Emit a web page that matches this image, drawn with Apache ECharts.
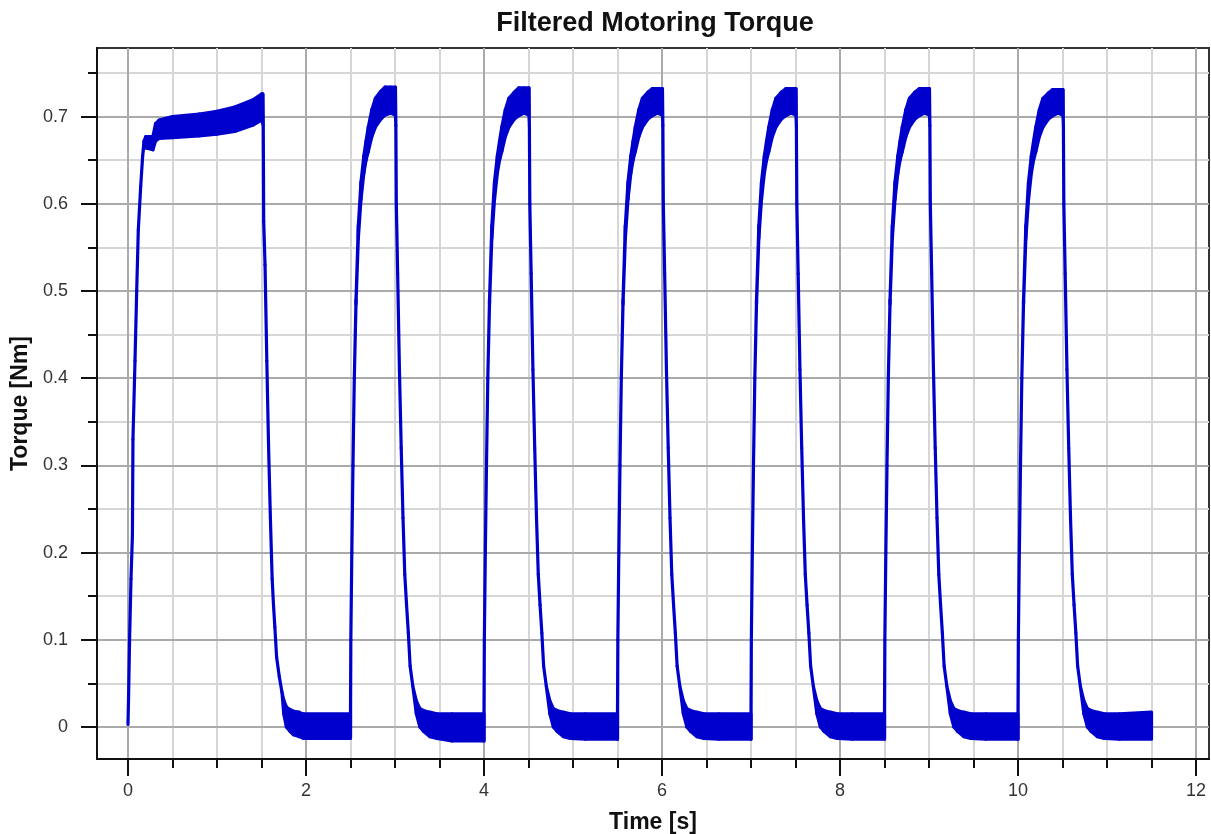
<!DOCTYPE html>
<html>
<head>
<meta charset="utf-8">
<script src="https://cdn.jsdelivr.net/npm/echarts@6/dist/echarts.min.js"></script>
<style>
html,body{margin:0;padding:0;background:#ffffff;}
#chart{width:1211px;height:834px;}
</style>
</head>
<body>
<div id="chart"></div>
<script>
// ---- data ----
const time = [
  // pulse 1
  0.000,0.006,0.018,0.034,0.050,0.056,0.079,0.098,0.116,0.143,0.165,0.180,0.200,0.280,0.310,0.350,0.500,0.800,1.000,1.200,1.400,1.500,1.515,1.520,1.525,1.540,1.560,1.580,1.600,1.620,1.635,1.650,1.670,1.700,1.730,1.750,1.780,1.820,1.860,1.920,1.970,2.500,
  // pulse 2
  2.504,2.515,2.528,2.543,2.562,2.588,2.618,2.650,2.675,2.700,2.740,2.780,2.840,2.890,2.950,3.005,3.010,3.015,3.030,3.050,3.070,3.090,3.110,3.130,3.150,3.170,3.200,3.240,3.280,3.320,3.390,3.470,3.640,4.000,
  // pulse 3
  4.004,4.015,4.028,4.043,4.062,4.088,4.118,4.150,4.175,4.200,4.240,4.280,4.340,4.390,4.450,4.505,4.510,4.515,4.530,4.550,4.570,4.590,4.610,4.630,4.650,4.670,4.700,4.740,4.780,4.820,4.890,4.970,5.140,5.500,
  // pulse 4
  5.504,5.515,5.528,5.543,5.562,5.588,5.618,5.650,5.675,5.700,5.740,5.780,5.840,5.890,5.950,6.005,6.010,6.015,6.030,6.050,6.070,6.090,6.110,6.130,6.150,6.170,6.200,6.240,6.280,6.320,6.390,6.470,6.640,7.000,
  // pulse 5
  7.004,7.015,7.028,7.043,7.062,7.088,7.118,7.150,7.175,7.200,7.240,7.280,7.340,7.390,7.450,7.505,7.510,7.515,7.530,7.550,7.570,7.590,7.610,7.630,7.650,7.670,7.700,7.740,7.780,7.820,7.890,7.970,8.140,8.500,
  // pulse 6
  8.504,8.515,8.528,8.543,8.562,8.588,8.618,8.650,8.675,8.700,8.740,8.780,8.840,8.890,8.950,9.005,9.010,9.015,9.030,9.050,9.070,9.090,9.110,9.130,9.150,9.170,9.200,9.240,9.280,9.320,9.390,9.470,9.640,10.000,
  // pulse 7
  10.004,10.015,10.028,10.043,10.062,10.088,10.118,10.150,10.175,10.200,10.240,10.280,10.340,10.390,10.450,10.505,10.510,10.515,10.530,10.550,10.570,10.590,10.610,10.630,10.650,10.670,10.700,10.740,10.780,10.820,10.890,10.970,11.140,11.500
];
// upper edge of the ripple band (Nm)
const upper = [
  0.003,0.030,0.100,0.170,0.220,0.330,0.420,0.500,0.570,0.620,0.655,0.672,0.677,0.677,0.692,0.696,0.700,0.703,0.706,0.711,0.719,0.726,0.726,0.690,0.580,0.530,0.420,0.320,0.240,0.170,0.140,0.115,0.080,0.058,0.040,0.031,0.023,0.020,0.018,0.017,0.015,0.015,
  0.100,0.200,0.300,0.400,0.490,0.575,0.625,0.655,0.672,0.688,0.708,0.721,0.729,0.734,0.734,0.734,0.690,0.600,0.520,0.410,0.320,0.240,0.175,0.140,0.108,0.070,0.047,0.030,0.021,0.019,0.017,0.015,0.015,0.015,
  0.100,0.200,0.300,0.400,0.490,0.575,0.625,0.655,0.672,0.688,0.708,0.721,0.728,0.733,0.733,0.733,0.690,0.600,0.520,0.410,0.320,0.240,0.175,0.140,0.108,0.070,0.047,0.030,0.021,0.019,0.017,0.015,0.015,0.015,
  0.100,0.200,0.300,0.400,0.490,0.575,0.625,0.655,0.672,0.688,0.708,0.721,0.728,0.732,0.732,0.732,0.690,0.600,0.520,0.410,0.320,0.240,0.175,0.140,0.108,0.070,0.047,0.030,0.021,0.019,0.017,0.015,0.015,0.015,
  0.100,0.200,0.300,0.400,0.490,0.575,0.625,0.655,0.672,0.688,0.708,0.721,0.728,0.732,0.732,0.732,0.690,0.600,0.520,0.410,0.320,0.240,0.175,0.140,0.108,0.070,0.047,0.030,0.021,0.019,0.017,0.015,0.015,0.015,
  0.100,0.200,0.300,0.400,0.490,0.575,0.625,0.655,0.672,0.688,0.708,0.721,0.728,0.732,0.732,0.732,0.690,0.600,0.520,0.410,0.320,0.240,0.175,0.140,0.108,0.070,0.047,0.030,0.021,0.019,0.017,0.015,0.015,0.015,
  0.100,0.200,0.300,0.400,0.490,0.575,0.625,0.655,0.672,0.688,0.708,0.721,0.727,0.731,0.731,0.731,0.690,0.600,0.520,0.410,0.320,0.240,0.175,0.140,0.108,0.070,0.047,0.030,0.021,0.019,0.017,0.015,0.015,0.017
];
// lower edge of the ripple band (Nm)
const lower = [
  0.003,0.030,0.100,0.170,0.220,0.330,0.420,0.500,0.570,0.620,0.655,0.668,0.664,0.662,0.672,0.675,0.676,0.678,0.680,0.683,0.690,0.696,0.692,0.690,0.580,0.530,0.420,0.320,0.240,0.170,0.140,0.115,0.080,0.058,0.040,0.015,0.000,-0.005,-0.009,-0.011,-0.013,-0.013,
  0.100,0.200,0.300,0.400,0.485,0.560,0.605,0.635,0.650,0.660,0.677,0.688,0.697,0.702,0.704,0.702,0.690,0.600,0.520,0.410,0.320,0.240,0.175,0.140,0.108,0.070,0.047,0.015,0.000,-0.005,-0.011,-0.013,-0.016,-0.016,
  0.100,0.200,0.300,0.400,0.485,0.560,0.605,0.635,0.650,0.660,0.677,0.688,0.697,0.701,0.704,0.702,0.690,0.600,0.520,0.410,0.320,0.240,0.175,0.140,0.108,0.070,0.047,0.015,0.000,-0.005,-0.011,-0.013,-0.014,-0.014,
  0.100,0.200,0.300,0.400,0.485,0.560,0.605,0.635,0.650,0.660,0.677,0.688,0.697,0.701,0.704,0.702,0.690,0.600,0.520,0.410,0.320,0.240,0.175,0.140,0.108,0.070,0.047,0.015,0.000,-0.005,-0.011,-0.013,-0.014,-0.014,
  0.100,0.200,0.300,0.400,0.485,0.560,0.605,0.635,0.650,0.660,0.677,0.688,0.697,0.701,0.704,0.702,0.690,0.600,0.520,0.410,0.320,0.240,0.175,0.140,0.108,0.070,0.047,0.015,0.000,-0.005,-0.011,-0.013,-0.014,-0.014,
  0.100,0.200,0.300,0.400,0.485,0.560,0.605,0.635,0.650,0.660,0.677,0.688,0.697,0.701,0.704,0.702,0.690,0.600,0.520,0.410,0.320,0.240,0.175,0.140,0.108,0.070,0.047,0.015,0.000,-0.005,-0.011,-0.013,-0.014,-0.014,
  0.100,0.200,0.300,0.400,0.485,0.560,0.605,0.635,0.650,0.660,0.677,0.688,0.697,0.701,0.704,0.702,0.690,0.600,0.520,0.410,0.320,0.240,0.175,0.140,0.108,0.070,0.047,0.015,0.000,-0.005,-0.011,-0.013,-0.014,-0.014
];
// tick labels / tick positions
const xMajorTicks = [0, 2, 4, 6, 8, 10, 12];
const xMinorTicks = [0.5, 1, 1.5, 2.5, 3, 3.5, 4.5, 5, 5.5, 6.5, 7, 7.5, 8.5, 9, 9.5, 10.5, 11, 11.5];
const yMajorTicks = [0, 0.1, 0.2, 0.3, 0.4, 0.5, 0.6, 0.7];
const yMinorTicks = [0.05, 0.15, 0.25, 0.35, 0.45, 0.55, 0.65, 0.75];
const xRange = [-0.348, 12.146];
const yRange = [-0.0367, 0.7787];

const titleText = 'Filtered Motoring Torque';
const xName = 'Time [s]';
const yName = 'Torque [Nm]';

// ---- chart ----
const FONT = '"Liberation Sans", Arial, Helvetica, sans-serif';
const BLUE = '#0000CD';
const seriesData = time.map((t, i) => [t, upper[i], lower[i]]);

function renderSegment(params, api) {
  const i = params.dataIndex;
  if (i >= time.length - 1) return null;
  const p1 = api.coord([api.value(0), api.value(1)]);
  const p2 = api.coord([time[i + 1], upper[i + 1]]);
  const p3 = api.coord([time[i + 1], lower[i + 1]]);
  const p4 = api.coord([api.value(0), api.value(2)]);
  return {
    type: 'polygon',
    shape: {points: [p1, p2, p3, p4]},
    style: {fill: BLUE, stroke: BLUE, lineWidth: 3.2, lineJoin: 'round'}
  };
}

const chart = echarts.init(document.getElementById('chart'), null, {renderer: 'canvas'});
chart.setOption({
  animation: false,
  backgroundColor: '#ffffff',
  title: {
    text: titleText,
    left: 650,
    textAlign: 'center',
    top: 5,
    textStyle: {fontFamily: FONT, fontSize: 27, fontWeight: 'bold', color: '#111111'}
  },
  grid: {
    left: 97, right: 2, top: 48, bottom: 75,
    outerBoundsMode: 'none',
    containLabel: false,
    show: true, borderColor: '#333333', borderWidth: 2, backgroundColor: 'transparent'
  },
  xAxis: [
    {
      type: 'value', position: 'bottom', min: xRange[0], max: xRange[1], z: 2,
      name: xName, nameLocation: 'middle', nameGap: 52,
      nameTextStyle: {fontFamily: FONT, fontSize: 23, fontWeight: 'bold', color: '#111111'},
      axisLine: {show: true, onZero: false, lineStyle: {color: '#111111', width: 2}},
      axisTick: {show: true, customValues: xMajorTicks, length: 17, lineStyle: {color: '#111111', width: 2}},
      axisLabel: {show: true, customValues: xMajorTicks, margin: 23, fontFamily: FONT, fontSize: 18, color: '#333333'},
      splitLine: {show: true, lineStyle: {color: '#aaaaaa', width: 2}}
    },
    {
      type: 'value', position: 'bottom', min: xRange[0], max: xRange[1], z: 1,
      axisLine: {show: false, onZero: false},
      axisTick: {show: true, customValues: xMinorTicks, length: 9, lineStyle: {color: '#111111', width: 2}},
      axisLabel: {show: false},
      splitLine: {show: true, lineStyle: {color: '#d6d6d6', width: 2}}
    }
  ],
  yAxis: [
    {
      type: 'value', position: 'left', min: yRange[0], max: yRange[1], z: 2,
      name: yName, nameLocation: 'middle', nameGap: 56, nameRotate: 90,
      nameTextStyle: {fontFamily: FONT, fontSize: 23, fontWeight: 'bold', color: '#111111'},
      axisLine: {show: true, onZero: false, lineStyle: {color: '#111111', width: 2}},
      axisTick: {show: true, customValues: yMajorTicks, length: 16, lineStyle: {color: '#111111', width: 2}},
      axisLabel: {show: true, customValues: yMajorTicks, margin: 29, fontFamily: FONT, fontSize: 18, color: '#333333'},
      splitLine: {show: true, lineStyle: {color: '#aaaaaa', width: 2}}
    },
    {
      type: 'value', position: 'left', min: yRange[0], max: yRange[1], z: 1,
      axisLine: {show: false, onZero: false},
      axisTick: {show: true, customValues: yMinorTicks, length: 9, lineStyle: {color: '#111111', width: 2}},
      axisLabel: {show: false},
      splitLine: {show: true, lineStyle: {color: '#d6d6d6', width: 2}}
    }
  ],
  series: [
    {
      name: 'Torque', type: 'custom', coordinateSystem: 'cartesian2d',
      xAxisIndex: 0, yAxisIndex: 0,
      data: seriesData,
      encode: {x: 0, y: [1, 2]},
      renderItem: renderSegment,
      z: 5, silent: true, clip: true
    }
  ]
});
</script>
</body>
</html>
